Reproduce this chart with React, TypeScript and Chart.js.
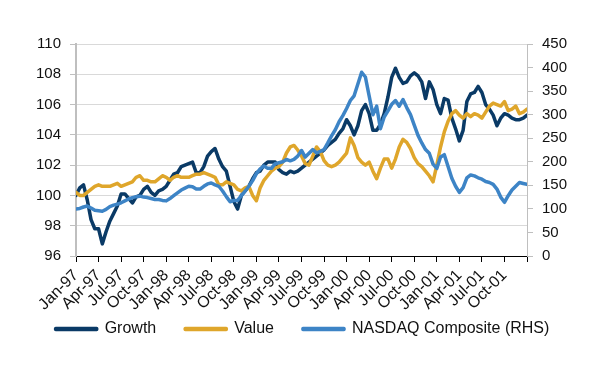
import React, { useEffect, useRef } from 'react';
import { Chart, registerables } from 'chart.js';

Chart.register(...registerables);

// month offsets from Jan-97 (0) to Jan-02 (60)
const monthOffsets = [
  0, 0.5, 1, 1.5, 2, 2.5, 3, 3.5, 4, 4.5,
  5, 5.5, 6, 6.5, 7, 7.5, 8, 8.5, 9, 9.5,
  10, 10.5, 11, 11.5, 12, 12.5, 13, 13.5, 14, 14.5,
  15, 15.5, 16, 16.5, 17, 17.5, 18, 18.5, 19, 19.5,
  20, 20.5, 21, 21.5, 22, 22.5, 23, 23.5, 24, 24.5,
  25, 25.5, 26, 26.5, 27, 27.5, 28, 28.5, 29, 29.5,
  30, 30.5, 31, 31.5, 32, 32.5, 33, 33.5, 34, 34.5,
  35, 35.5, 36, 36.5, 37, 37.5, 38, 38.5, 39, 39.5,
  40, 40.5, 41, 41.5, 42, 42.5, 43, 43.5, 44, 44.5,
  45, 45.5, 46, 46.5, 47, 47.5, 48, 48.5, 49, 49.5,
  50, 50.5, 51, 51.5, 52, 52.5, 53, 53.5, 54, 54.5,
  55, 55.5, 56, 56.5, 57, 57.5, 58, 58.5, 59, 59.5,
  60,
];

const growth = [
  100.0, 100.5, 100.7, 99.7, 98.4, 97.8, 97.8, 96.8, 97.6, 98.3,
  98.8, 99.3, 100.1, 100.1, 99.8, 99.5, 99.9, 100.0, 100.4, 100.6,
  100.2, 100.0, 100.3, 100.4, 100.6, 101.0, 101.4, 101.5, 101.9, 102.0,
  102.1, 102.2, 101.5, 101.5, 101.9, 102.6, 102.9, 103.1, 102.4, 101.9,
  101.6, 100.6, 99.6, 99.1, 100.0, 100.3, 100.6, 101.1, 101.5, 101.6,
  102.0, 102.2, 102.2, 102.2, 101.7, 101.5, 101.4, 101.6, 101.5, 101.6,
  101.8, 102.0, 102.2, 102.4, 102.6, 102.8, 103.0, 103.3, 103.5, 103.7,
  104.1, 104.4, 105.0, 104.6, 104.0, 104.6, 105.6, 106.0, 105.4, 104.3,
  104.3, 104.7, 105.4, 106.5, 107.8, 108.4, 107.8, 107.4, 107.5, 107.9,
  108.1, 107.9, 107.5, 106.4, 107.5, 107.0, 106.0, 105.4, 106.4, 106.3,
  105.1, 104.4, 103.6, 104.3, 106.2, 106.7, 106.8, 107.2, 106.8, 106.0,
  105.7, 105.3, 104.6, 105.1, 105.4, 105.3, 105.1, 105.0, 105.0, 105.1,
  105.3,
];

const value = [
  100.2, 100.0, 100.0, 100.2, 100.4, 100.6, 100.7, 100.6, 100.6, 100.6,
  100.7, 100.8, 100.6, 100.7, 100.8, 100.9, 101.2, 101.3, 101.0, 101.0,
  100.9, 100.9, 101.1, 101.3, 101.2, 101.0, 101.2, 101.3, 101.2, 101.2,
  101.2, 101.3, 101.4, 101.4, 101.5, 101.4, 101.3, 101.2, 100.7, 100.7,
  100.9, 100.8, 100.7, 100.4, 100.3, 100.5, 100.6, 100.0, 99.65, 100.5,
  101.0, 101.3, 101.6, 101.8, 101.9, 102.2, 102.8, 103.2, 103.3, 103.0,
  102.6, 102.1, 102.0, 102.6, 103.2, 102.9, 102.3, 102.0, 101.9, 102.0,
  102.2, 102.5, 102.8, 103.8, 103.3, 102.5, 102.2, 102.0, 102.2, 101.6,
  101.1, 101.8, 102.4, 102.4, 101.8, 102.4, 103.2, 103.7, 103.5, 103.1,
  102.5, 102.1, 101.9, 101.6, 101.3, 100.9, 102.0, 103.2, 104.2, 104.9,
  105.4, 105.6, 105.3, 105.1, 105.4, 105.2, 105.4, 105.3, 105.1, 105.5,
  105.9, 106.1, 106.0, 105.9, 106.2, 105.6, 105.7, 105.9, 105.4, 105.5,
  105.7,
];

const nasdaq = [
  100, 101, 104, 106, 102, 97, 96, 95, 99, 105,
  108, 110, 113, 117, 121, 124, 126, 127, 125, 124,
  122, 120, 120, 118, 117, 122, 128, 134, 140, 144,
  148, 147, 142, 142, 148, 153, 155, 151, 148, 138,
  126, 115, 118, 118, 128, 138, 148, 160, 175, 185,
  191, 186, 186, 196, 198, 200, 205, 202, 205, 212,
  224, 210, 218, 226, 219, 222, 226, 240, 255, 268,
  285, 298, 313, 330, 340, 365, 390, 380, 340, 300,
  318, 270, 295, 308, 322, 330, 318, 332, 315, 300,
  278, 256, 240, 226, 218, 195, 186, 210, 215, 190,
  165, 148, 135, 145, 166, 172, 170, 166, 163, 158,
  156, 152, 142, 125, 114, 128, 140, 148, 156, 154,
  152,
];

const quarterLabels = [
  'Jan-97', 'Apr-97', 'Jul-97', 'Oct-97',
  'Jan-98', 'Apr-98', 'Jul-98', 'Oct-98',
  'Jan-99', 'Apr-99', 'Jul-99', 'Oct-99',
  'Jan-00', 'Apr-00', 'Jul-00', 'Oct-00',
  'Jan-01', 'Apr-01', 'Jul-01', 'Oct-01',
];

const seriesNames = ['Growth', 'Value', 'NASDAQ Composite (RHS)'];
const seriesColors = ['#0a3a66', '#dfa62b', '#3d84c6'];

const FONT = '"Liberation Sans", Arial, Helvetica, sans-serif';
const TEXT = '#111111';

function pts(vals: number[]) {
  return vals.map((v, i) => ({ x: monthOffsets[i], y: v }));
}

export default function App() {
  const ref = useRef<HTMLCanvasElement | null>(null);

  useEffect(() => {
    document.body.style.margin = '0';
    const canvas = ref.current;
    if (!canvas) return;
    const chart = new Chart(canvas, {
      type: 'line',
      data: {
        datasets: [
          {
            label: seriesNames[0],
            data: pts(growth),
            borderColor: seriesColors[0],
            backgroundColor: seriesColors[0],
            yAxisID: 'y',
            order: 2,
          },
          {
            label: seriesNames[1],
            data: pts(value),
            borderColor: seriesColors[1],
            backgroundColor: seriesColors[1],
            yAxisID: 'y',
            order: 1,
          },
          {
            label: seriesNames[2],
            data: pts(nasdaq),
            borderColor: seriesColors[2],
            backgroundColor: seriesColors[2],
            yAxisID: 'y1',
            order: 0,
          },
        ],
      },
      options: {
        responsive: false,
        animation: false,
        events: [],
        layout: { padding: { top: 44, left: 7, right: 0, bottom: 21 } },
        elements: {
          point: { radius: 0 },
          line: { borderWidth: 3.5, tension: 0, borderJoinStyle: 'round', borderCapStyle: 'round' },
        },
        plugins: {
          tooltip: { enabled: false },
          legend: {
            position: 'bottom',
            labels: {
              font: { family: FONT, size: 16 },
              color: TEXT,
              boxWidth: 41,
              boxHeight: 1,
              padding: 29,
              sort: (a: any, b: any) => a.datasetIndex - b.datasetIndex,
            },
          },
        },
        scales: {
          x: {
            type: 'linear',
            min: 0,
            max: 60,
            grid: {
              drawOnChartArea: false,
              drawTicks: true,
              tickLength: 6,
              color: '#000000',
            },
            border: { color: '#000000', width: 1 },
            ticks: {
              stepSize: 3,
              autoSkip: false,
              minRotation: 45,
              maxRotation: 45,
              padding: 4,
              font: { family: FONT, size: 16 },
              color: TEXT,
              callback: (v: any) => {
                const idx = Math.round(Number(v) / 3);
                return quarterLabels[idx] ?? '';
              },
            },
            afterFit: (s: any) => {
              s.height = 36;
              s._computeLabelArea = () => undefined;
            },
          },
          y: {
            position: 'left',
            min: 96,
            max: 110,
            grid: {
              color: '#d9d9d9',
              lineWidth: 1,
              tickLength: 6,
              tickColor: '#bfbfbf',
            },
            border: { color: '#bfbfbf', width: 2 },
            ticks: {
              stepSize: 2,
              padding: 9,
              font: { family: FONT, size: 15 },
              color: TEXT,
            },
            afterFit: (s: any) => {
              s.width = 69;
            },
          },
          y1: {
            position: 'right',
            min: 0,
            max: 450,
            grid: {
              drawOnChartArea: false,
              tickLength: 6,
              color: '#bfbfbf',
            },
            border: { color: '#bfbfbf', width: 1 },
            ticks: {
              stepSize: 50,
              padding: 9,
              font: { family: FONT, size: 15 },
              color: TEXT,
            },
            afterFit: (s: any) => {
              s.width = 71;
            },
          },
        },
      },
    });
    return () => chart.destroy();
  }, []);

  return (
    <div style={{ position: 'absolute', left: 0, top: 0, width: 598, height: 368, background: '#ffffff' }}>
      <canvas ref={ref} width={598} height={368} style={{ display: 'block', width: 598, height: 368 }} />
    </div>
  );
}
